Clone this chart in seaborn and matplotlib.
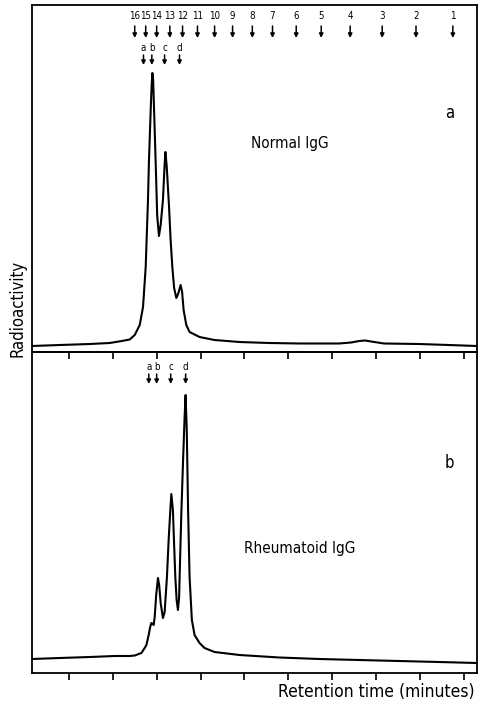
import matplotlib
matplotlib.use("Agg")
import matplotlib.pyplot as plt
import seaborn as sns
import pandas as pd

# ---------------- data ----------------
# retention time (arbitrary minute units) and radioactivity (arbitrary units)
normal_time = [-0.841, -0.205, 0.477, 0.932, 1.205, 1.386, 1.500, 1.614, 1.689, 1.750,
               1.802, 1.825, 1.864, 1.886, 1.902, 1.920, 1.955, 1.989, 2.011, 2.052,
               2.091, 2.143, 2.175, 2.198, 2.227, 2.280, 2.318, 2.357, 2.398, 2.448,
               2.489, 2.545, 2.580, 2.614, 2.675, 2.750, 2.977, 3.318, 3.886, 4.568,
               5.250, 6.159, 6.432, 6.614, 6.750, 6.886, 7.182, 7.977, 8.659, 9.295]
normal_activity = [6, 7, 8, 9, 11, 12.5, 17, 27, 45, 85,
                   152, 192, 242, 267, 279, 272, 222, 172, 137, 116,
                   127, 152, 182, 200, 187, 147, 112, 85, 64, 54,
                   58, 67, 60, 42, 27, 20, 15, 12, 10, 9,
                   8.5, 8.5, 9.5, 11, 11.5, 10.5, 8.5, 8, 7, 6]

rheum_time = [-0.841, -0.205, 0.477, 1.045, 1.386, 1.500, 1.652, 1.727, 1.766, 1.818,
              1.852, 1.880, 1.909, 1.932, 1.955, 1.989, 2.030, 2.057, 2.091, 2.143,
              2.182, 2.234, 2.273, 2.311, 2.334, 2.370, 2.398, 2.425, 2.455, 2.484,
              2.511, 2.523, 2.561, 2.602, 2.636, 2.659, 2.686, 2.716, 2.750, 2.802,
              2.864, 2.977, 3.091, 3.318, 3.886, 4.795, 5.705, 6.614, 7.523, 8.432, 9.295]
rheum_activity = [14, 15, 16, 17, 17, 17.5, 20, 25, 28, 38,
                  46, 50, 49, 48, 56, 78, 95, 88, 70, 55,
                  61, 96, 133, 163, 179, 163, 128, 96, 73, 63,
                  75, 96, 158, 213, 255, 278, 243, 163, 96, 53,
                  38, 30, 25, 21, 18, 15.5, 14, 13, 12, 11, 10]

standard_labels = ["16", "15", "14", "13", "12", "11", "10", "9", "8", "7",
                   "6", "5", "4", "3", "2", "1"]
standard_times = [1.50, 1.75, 2.00, 2.30, 2.59, 2.93, 3.32, 3.73, 4.18, 4.64,
                  5.18, 5.75, 6.41, 7.14, 7.91, 8.75]

fraction_labels = ["a", "b", "c", "d"]
normal_fraction_times = [1.70, 1.89, 2.18, 2.52]
rheum_fraction_times = [1.82, 2.00, 2.32, 2.66]

x_ticks = [0, 1, 2, 3, 4, 5, 6, 7, 8, 9]

# ---------------- style ----------------
sns.set_theme(style="white")
plt.rcParams["font.family"] = ["DejaVu Sans"]
plt.rcParams["font.stretch"] = "condensed"
plt.rcParams["text.color"] = "black"

W, H = 478, 705
fig = plt.figure(figsize=(W / 100, H / 100), dpi=100)

left = 32 / W
right = 477 / W
ax_top = fig.add_axes([left, (H - 352) / H, right - left, (352 - 5) / H])
ax_bot = fig.add_axes([left, (H - 673) / H, right - left, (673 - 352) / H])

df_n = pd.DataFrame({"time": normal_time, "activity": normal_activity})
df_r = pd.DataFrame({"time": rheum_time, "activity": rheum_activity})

sns.lineplot(data=df_n, x="time", y="activity", ax=ax_top, sort=False,
             estimator=None, color="black", linewidth=1.5)
sns.lineplot(data=df_r, x="time", y="activity", ax=ax_bot, sort=False,
             estimator=None, color="black", linewidth=1.5)

xlim = (-0.841, 9.3)
ax_top.set_ylim(0, 347)
ax_bot.set_ylim(0, 321)

for ax in (ax_top, ax_bot):
    ax.set_xlim(*xlim)
    ax.set_xticks(x_ticks)
    ax.set_xticklabels([])
    ax.set_yticks([])
    ax.set_xlabel("")
    ax.set_ylabel("")
    ax.patch.set_alpha(0)
    ax.tick_params(axis="x", direction="out", length=5, width=1.2,
                   color="black", bottom=True)
    for s in ax.spines.values():
        s.set_visible(True)
        s.set_color("black")
        s.set_linewidth(1.3)

arrow_kw = dict(arrowstyle="-|>", color="black", lw=1.1, mutation_scale=6,
                shrinkA=0, shrinkB=0)

# standards markers (top panel)
for lab, t in zip(standard_labels, standard_times):
    ax_top.text(t, 336, lab, ha="center", va="center", fontsize=7)
    ax_top.annotate("", xy=(t, 314), xytext=(t, 326), arrowprops=arrow_kw)

for lab, t in zip(fraction_labels, normal_fraction_times):
    ax_top.text(t, 304, lab, ha="center", va="center", fontsize=7)
    ax_top.annotate("", xy=(t, 287), xytext=(t, 297), arrowprops=arrow_kw)

for lab, t in zip(fraction_labels, rheum_fraction_times):
    ax_bot.text(t, 306, lab, ha="center", va="center", fontsize=7)
    ax_bot.annotate("", xy=(t, 289), xytext=(t, 299), arrowprops=arrow_kw)

ax_top.text(0.939, 0.689, "a", transform=ax_top.transAxes, ha="center",
            va="center", fontsize=12)
ax_top.text(0.58, 0.602, "Normal IgG", transform=ax_top.transAxes,
            ha="center", va="center", fontsize=11)
ax_bot.text(0.937, 0.654, "b", transform=ax_bot.transAxes, ha="center",
            va="center", fontsize=12)
ax_bot.text(0.602, 0.389, "Rheumatoid IgG", transform=ax_bot.transAxes,
            ha="center", va="center", fontsize=11)

fig.text(18 / W, 1 - 308 / H, "Radioactivity", rotation=90, ha="center",
         va="center", fontsize=12)
fig.text(475 / W, 1 - 692 / H, "Retention time (minutes)", ha="right",
         va="center", fontsize=12.5)

fig.savefig("out.png", dpi=100, facecolor="white")
